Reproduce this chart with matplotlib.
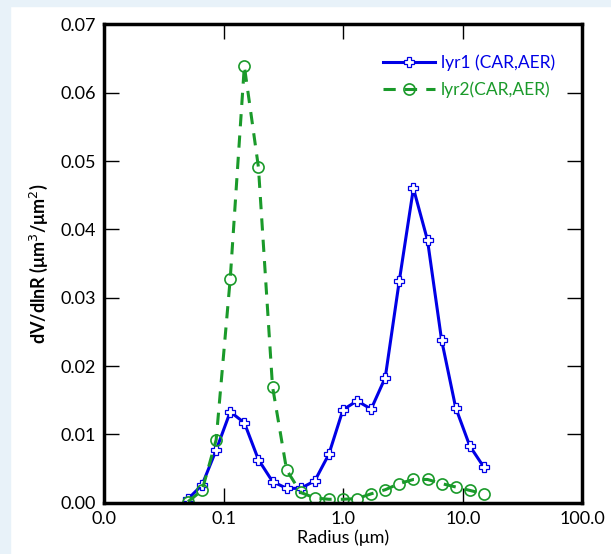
import numpy as np
import matplotlib
matplotlib.use("Agg")
import matplotlib.pyplot as plt
from matplotlib.ticker import FixedLocator, FixedFormatter, NullLocator
from matplotlib.patches import Rectangle

plt.rcParams['font.family'] = ['Lato', 'DejaVu Sans']

# radius bins (um)
radius = [0.05, 0.065604, 0.086077, 0.112939, 0.148184, 0.194429, 0.255105,
          0.334716, 0.439173, 0.576227, 0.756052, 0.991996, 1.301571, 1.707757,
          2.240702, 2.939966, 3.857452, 5.061260, 6.640745, 8.713145,
          11.432287, 15.0]

# dV/dlnR, layer 1 and layer 2
lyr1 = [0.00054, 0.0026, 0.0077, 0.0133, 0.0117, 0.0063, 0.0031, 0.0021,
        0.0021, 0.0032, 0.0071, 0.0136, 0.0149, 0.0137, 0.0183, 0.0325,
        0.0460, 0.0384, 0.0238, 0.0139, 0.0083, 0.0052]
lyr2 = [0.00015, 0.0018, 0.0092, 0.0328, 0.0639, 0.0491, 0.0170, 0.0048,
        0.0015, 0.0007, 0.0005, 0.0005, 0.0006, 0.0013, 0.0019, 0.0028,
        0.0034, 0.0034, 0.0028, 0.0023, 0.0018, 0.0013]

xticks = [0.01, 0.1, 1.0, 10.0, 100.0]
xticklabels = ["0.0", "0.1", "1.0", "10.0", "100.0"]
yticks = [0.0, 0.01, 0.02, 0.03, 0.04, 0.05, 0.06, 0.07]

fig = plt.figure(figsize=(6.11, 5.54), dpi=100)
# light blue screenshot border
fig.patches.append(Rectangle((0, 0), 0.016, 1, transform=fig.transFigure,
                             color='#e8f2f9', zorder=-1))
fig.patches.append(Rectangle((0, 0.99), 1, 0.01, transform=fig.transFigure,
                             color='#e8f2f9', zorder=-1))

ax = fig.add_axes([0.171, 0.0926, 0.782, 0.8635])

blue = '#0000e6'
green = '#1a9a2a'
ax.plot(radius, lyr1, '-', color=blue, lw=2.2, marker='P', ms=6.5,
        mfc='white', mec=blue, mew=0.9, label='lyr1 (CAR,AER)')
ax.plot(radius, lyr2, '--', color=green, lw=2.2, dashes=(4, 3), marker='o',
        ms=8, mfc='none', mec=green, mew=1.2, label='lyr2(CAR,AER)')

ax.set_xscale('log')
ax.set_xlim(0.01, 100)
ax.set_ylim(0, 0.07)
ax.xaxis.set_major_locator(FixedLocator(xticks))
ax.xaxis.set_major_formatter(FixedFormatter(xticklabels))
ax.xaxis.set_minor_locator(NullLocator())
ax.set_yticks(yticks)
ax.set_yticklabels(["%.2f" % v for v in yticks])

ax.tick_params(which='major', direction='in', length=11, width=1.0,
               top=True, right=True, labelsize=13, pad=6)
for s in ax.spines.values():
    s.set_linewidth(2.5)

ax.set_xlabel("Radius (μm)", fontsize=13, labelpad=2)
ax.set_ylabel("dV/dlnR (μm$^3$/μm$^2$)", fontsize=13, fontweight='bold',
              labelpad=8)

leg = ax.legend(loc='upper right', frameon=False, fontsize=12.5,
                handlelength=3.0, handletextpad=0.3, borderaxespad=0.5,
                labelspacing=0.6, bbox_to_anchor=(0.975, 0.97))
for txt, c in zip(leg.get_texts(), [blue, green]):
    txt.set_color(c)

fig.savefig("out.png", dpi=100)
